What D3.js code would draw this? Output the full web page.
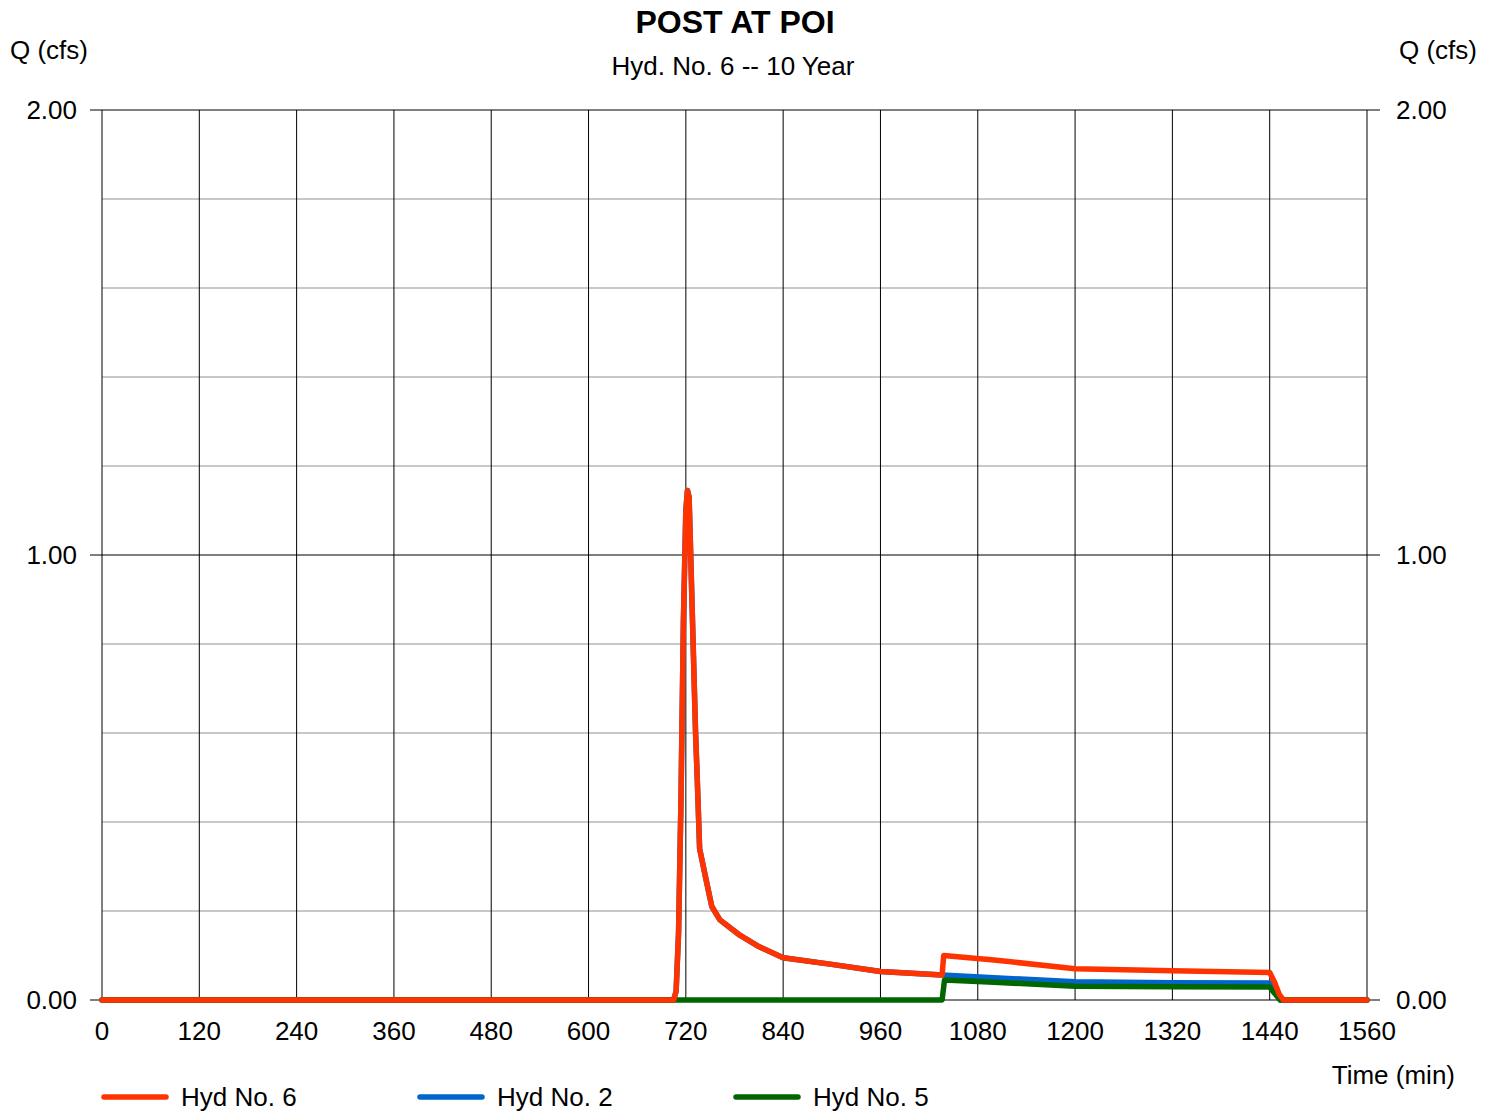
<!DOCTYPE html>
<html>
<head>
<meta charset="utf-8">
<script src="https://cdn.jsdelivr.net/npm/d3@7"></script>
<style>
  body { margin: 0; background: #fff; }
  text { font-family: "Liberation Sans", Arial, sans-serif; fill: #000; }
</style>
</head>
<body>
<svg id="chart"></svg>
<script>
// minutes / cfs
const hyd6Time = [0, 700, 705, 708, 711, 714, 717, 720, 722, 724, 726, 729, 732, 734, 737, 745, 752, 762, 787, 810, 840, 900, 960, 1036, 1038, 1100, 1200, 1320, 1440, 1446, 1452, 1457, 1560];
const hyd6Q    = [0, 0, 0, 0.02, 0.15, 0.45, 0.85, 1.10, 1.145, 1.13, 1.0, 0.8, 0.6, 0.5, 0.34, 0.27, 0.21, 0.18, 0.145, 0.12, 0.095, 0.08, 0.064, 0.056, 0.10, 0.09, 0.07, 0.066, 0.062, 0.04, 0.012, 0, 0];

const hyd2Time = [0, 700, 705, 708, 711, 714, 717, 720, 722, 724, 726, 729, 732, 734, 737, 745, 752, 762, 787, 810, 840, 900, 960, 1036, 1100, 1200, 1320, 1440, 1446, 1453, 1560];
const hyd2Q    = [0, 0, 0, 0.02, 0.15, 0.45, 0.85, 1.10, 1.145, 1.13, 1.0, 0.8, 0.6, 0.5, 0.34, 0.27, 0.21, 0.18, 0.145, 0.12, 0.095, 0.08, 0.064, 0.056, 0.05, 0.041, 0.039, 0.038, 0.02, 0, 0];

const hyd5Time = [0, 1036, 1039, 1100, 1200, 1320, 1440, 1446, 1453, 1560];
const hyd5Q    = [0, 0, 0.045, 0.04, 0.031, 0.030, 0.029, 0.015, 0, 0];

const xTicks = [0, 120, 240, 360, 480, 600, 720, 840, 960, 1080, 1200, 1320, 1440, 1560];
const yMajor = [0, 1, 2];
const yMinor = [0.2, 0.4, 0.6, 0.8, 1.2, 1.4, 1.6, 1.8];

const seriesNames = ["Hyd No. 6", "Hyd No. 2", "Hyd No. 5"];
const seriesColors = ["#ff3300", "#0066cc", "#006600"];

const w = 1494, h = 1114;
const margin = { top: 110, right: 127, bottom: 114, left: 102 };

const svg = d3.select("#chart").attr("width", w).attr("height", h);

const xScale = d3.scaleLinear().domain([0, 1560]).range([margin.left, w - margin.right]);
const yScale = d3.scaleLinear().domain([0, 2]).range([h - margin.bottom, margin.top]);

const x0 = xScale(0), x1 = xScale(1560), y0 = yScale(0), y1 = yScale(2);

// minor horizontal grid
svg.append("g").selectAll("line").data(yMinor).join("line")
  .attr("x1", x0).attr("x2", x1)
  .attr("y1", d => yScale(d)).attr("y2", d => yScale(d))
  .attr("stroke", "#c8c8c8").attr("stroke-width", 2);

// vertical grid
svg.append("g").selectAll("line").data(xTicks).join("line")
  .attr("x1", d => xScale(d)).attr("x2", d => xScale(d))
  .attr("y1", y1).attr("y2", y0)
  .attr("stroke", "#000").attr("stroke-width", 1);

// major horizontal grid with outside ticks
svg.append("g").selectAll("line").data(yMajor).join("line")
  .attr("x1", x0 - 12).attr("x2", x1 + 13)
  .attr("y1", d => yScale(d)).attr("y2", d => yScale(d))
  .attr("stroke", "#000").attr("stroke-width", 1);

// y labels left / right
svg.append("g").selectAll("text").data(yMajor).join("text")
  .attr("x", 77).attr("y", d => yScale(d)).attr("dy", "0.35em")
  .attr("text-anchor", "end").style("font-size", "26px")
  .text(d => d.toFixed(2));

svg.append("g").selectAll("text").data(yMajor).join("text")
  .attr("x", 1396).attr("y", d => yScale(d)).attr("dy", "0.35em")
  .style("font-size", "26px")
  .text(d => d.toFixed(2));

// x labels
svg.append("g").selectAll("text").data(xTicks).join("text")
  .attr("x", d => xScale(d)).attr("y", 1040)
  .attr("text-anchor", "middle").style("font-size", "26px")
  .text(d => d);

// lines
const line = d3.line().x(d => xScale(d[0])).y(d => yScale(d[1]));
const series = [
  d3.zip(hyd2Time, hyd2Q),
  d3.zip(hyd5Time, hyd5Q),
  d3.zip(hyd6Time, hyd6Q)
];
const drawColors = [seriesColors[1], seriesColors[2], seriesColors[0]];

svg.append("g").selectAll("path").data(series).join("path")
  .attr("d", line)
  .attr("fill", "none")
  .attr("stroke", (d, i) => drawColors[i])
  .attr("stroke-width", 5.5)
  .attr("stroke-linejoin", "round")
  .attr("stroke-linecap", "round");

// titles
svg.append("text").attr("x", 735).attr("y", 33)
  .attr("text-anchor", "middle").style("font-size", "32px").style("font-weight", "bold")
  .text("POST AT POI");
svg.append("text").attr("x", 733).attr("y", 75)
  .attr("text-anchor", "middle").style("font-size", "26px")
  .text("Hyd. No. 6 -- 10 Year");
svg.append("text").attr("x", 10).attr("y", 59).style("font-size", "26px").text("Q (cfs)");
svg.append("text").attr("x", 1477).attr("y", 59).attr("text-anchor", "end").style("font-size", "26px").text("Q (cfs)");
svg.append("text").attr("x", 1455).attr("y", 1084).attr("text-anchor", "end").style("font-size", "26px").text("Time (min)");

// legend
const legend = svg.append("g").selectAll("g").data(seriesNames).join("g")
  .attr("transform", (d, i) => `translate(${102 + i * 316}, 1097)`);
legend.append("line")
  .attr("x1", 2).attr("x2", 64)
  .attr("stroke", (d, i) => seriesColors[i])
  .attr("stroke-width", 5.5).attr("stroke-linecap", "round");
legend.append("text").attr("x", 79).attr("dy", "0.35em")
  .style("font-size", "26px").text(d => d);
</script>
</body>
</html>
